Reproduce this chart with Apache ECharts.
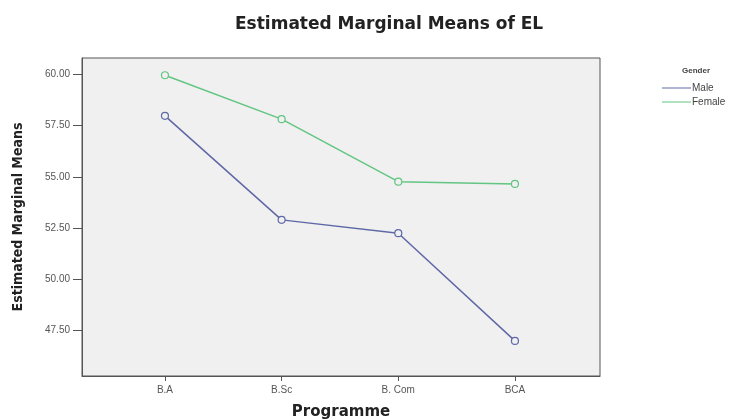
<!DOCTYPE html>
<html>
<head>
<meta charset="utf-8">
<script src="https://cdn.jsdelivr.net/npm/echarts@6/dist/echarts.min.js"></script>
<style>
  html, body { margin: 0; padding: 0; background: #fff; }
  #chart { width: 732px; height: 420px; }
</style>
</head>
<body>
<div id="chart"></div>
<script>
const programmes = ['B.A', 'B.Sc', 'B. Com', 'BCA'];
const maleMeans = [57.97, 52.9, 52.25, 47.0];
const femaleMeans = [59.95, 57.81, 54.76, 54.65];
const yTicks = [47.5, 50, 52.5, 55, 57.5, 60];

const MALE = '#5f68a6';
const FEMALE = '#62c582';

const toPoints = (vals) => vals.map((v, i) => [i, v]);

const chart = echarts.init(document.getElementById('chart'));

const lineSeries = (name, color, vals) => ({
  name,
  type: 'line',
  data: toPoints(vals),
  symbol: 'circle',
  symbolSize: 7,
  lineStyle: { color, width: 1.5 },
  itemStyle: { color: '#f0f0f0', borderColor: color, borderWidth: 1.2 },
  emphasis: { disabled: true },
});

const option = {
  backgroundColor: '#ffffff',
  animation: false,
  title: [
    {
      text: 'Estimated Marginal Means of EL',
      left: 230,
      top: 11,
      textStyle: { fontFamily: 'DejaVu Sans', fontWeight: 'bold', fontSize: 17, color: '#222' },
    },
    {
      text: 'Gender',
      left: 677,
      top: 62,
      textStyle: { fontFamily: 'Liberation Sans', fontWeight: 'bold', fontSize: 8, color: '#444' },
    },
  ],
  legend: {
    orient: 'vertical',
    left: 657,
    top: 78,
    itemGap: 4,
    itemWidth: 29,
    itemHeight: 1,
    icon: 'rect',
    data: [
      { name: 'Male', itemStyle: { color: MALE, borderWidth: 0 } },
      { name: 'Female', itemStyle: { color: FEMALE, borderWidth: 0 } },
    ],
    textStyle: { fontFamily: 'Liberation Sans', fontSize: 10, color: '#444', padding: [0, 0, 0, -4] },
  },
  grid: {
    left: 82,
    right: 132,
    top: 58,
    bottom: 44,
    outerBoundsMode: 'none',
    show: true,
    backgroundColor: '#f0f0f0',
    borderColor: '#555',
    borderWidth: 1,
  },
  xAxis: {
    type: 'value',
    min: -0.711,
    max: 3.729,
    name: 'Programme',
    nameLocation: 'middle',
    nameGap: 29,
    nameTextStyle: { fontFamily: 'DejaVu Sans', fontWeight: 'bold', fontSize: 15, color: '#222' },
    splitLine: { show: false },
    axisLine: { show: true, onZero: false, lineStyle: { color: '#555' } },
    axisTick: { show: true, length: 5, customValues: [0, 1, 2, 3], lineStyle: { color: '#555' } },
    axisLabel: {
      customValues: [0, 1, 2, 3],
      formatter: (v) => programmes[Math.round(v)],
      fontFamily: 'Liberation Sans',
      fontSize: 10,
      color: '#555',
      margin: 9,
    },
  },
  yAxis: {
    type: 'value',
    min: 45.29,
    max: 60.79,
    name: 'Estimated Marginal Means',
    nameLocation: 'middle',
    nameGap: 57,
    nameTextStyle: { fontFamily: "'DejaVu Sans Condensed', 'Liberation Sans'", fontWeight: 'bold', fontSize: 14, color: '#222' },
    splitLine: { show: false },
    axisLine: { show: true, onZero: false, lineStyle: { color: '#555' } },
    axisTick: { show: true, length: 9, customValues: yTicks, lineStyle: { color: '#555' } },
    axisLabel: {
      customValues: yTicks,
      formatter: (v) => v.toFixed(2),
      fontFamily: 'Liberation Sans',
      fontSize: 10,
      color: '#555',
      margin: 12,
    },
  },
  series: [
    lineSeries('Male', MALE, maleMeans),
    lineSeries('Female', FEMALE, femaleMeans),
  ],
};

chart.setOption(option);
</script>
</body>
</html>
